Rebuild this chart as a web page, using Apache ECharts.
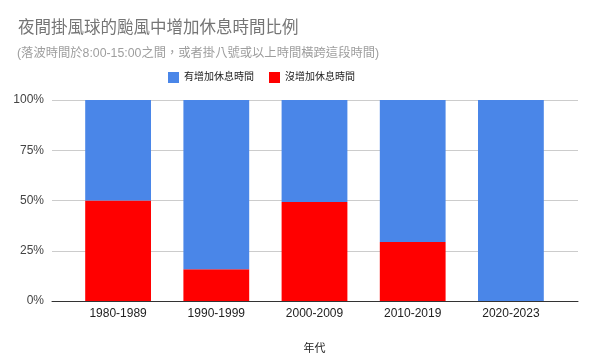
<!DOCTYPE html>
<html><head><meta charset="utf-8">
<script src="https://cdn.jsdelivr.net/npm/echarts@6/dist/echarts.min.js"></script>
<style>html,body{margin:0;padding:0;background:#fff}#c{width:589px;height:363px}</style>
</head><body><div id="c"></div>
<script>
var categories = ['1980-1989', '1990-1999', '2000-2009', '2010-2019', '2020-2023'];
var noIncrease = [50, 15.8, 49.3, 29.4, 0];
var withIncrease = [50, 84.2, 50.7, 70.6, 100];
var yTicks = [0, 25, 50, 75, 100];
var seriesNames = ['有增加休息時間', '沒增加休息時間'];

var FONT = '"Liberation Sans", Arial, "Noto Sans CJK TC", sans-serif';
var chart = echarts.init(document.getElementById('c'), null, {renderer: 'canvas'});
chart.setOption({
  backgroundColor: '#fff',
  animation: false,
  title: [
    {text: '夜間掛風球的颱風中增加休息時間比例', left: 13, top: 15,
     textStyle: {fontFamily: FONT, fontSize: 16.5, fontWeight: 'normal', color: '#757575'}},
    {text: '(落波時間於8:00-15:00之間，或者掛八號或以上時間橫跨這段時間)', left: 12, top: 42,
     textStyle: {fontFamily: FONT, fontSize: 12.3, fontWeight: 'normal', color: '#9e9e9e'}}
  ],
  legend: {
    data: seriesNames, left: 163, top: 67, icon: 'rect', itemWidth: 11, itemHeight: 11,
    itemGap: 15, textStyle: {fontFamily: FONT, fontSize: 10, color: '#222'}
  },
  grid: [
    {left: 52, right: 11, top: 100, bottom: 62},
    {left: 69, right: 29, top: 100, bottom: 62}
  ],
  xAxis: [
    {gridIndex: 0, type: 'value', min: 0, max: 1, axisLine: {show: true, onZero: false, lineStyle: {color: '#333', width: 1}},
     axisTick: {show: false}, axisLabel: {show: false}, splitLine: {show: false}},
    {gridIndex: 1, type: 'category', data: categories, axisLine: {show: false}, axisTick: {show: false},
     axisLabel: {fontFamily: FONT, fontSize: 12, color: '#222', margin: 7},
     name: '年代', nameLocation: 'middle', nameGap: 42,
     nameTextStyle: {fontFamily: FONT, fontSize: 11, color: '#222'}}
  ],
  yAxis: [
    {gridIndex: 0, type: 'value', min: yTicks[0], max: yTicks[yTicks.length - 1], interval: 25,
     axisLine: {show: false}, axisTick: {show: false},
     axisLabel: {formatter: '{value}%', fontFamily: FONT, fontSize: 12, color: '#444', margin: 8},
     splitLine: {lineStyle: {color: '#ccc', width: 1}}},
    {gridIndex: 1, type: 'value', min: 0, max: 100, show: false, splitLine: {show: false}}
  ],
  series: [
    {name: seriesNames[1], type: 'bar', stack: 'a', xAxisIndex: 1, yAxisIndex: 1, data: noIncrease,
     barCategoryGap: '33%', itemStyle: {color: '#ff0000'}},
    {name: seriesNames[0], type: 'bar', stack: 'a', xAxisIndex: 1, yAxisIndex: 1, data: withIncrease,
     barCategoryGap: '33%', itemStyle: {color: '#4a86e8'}}
  ]
});
</script></body></html>
